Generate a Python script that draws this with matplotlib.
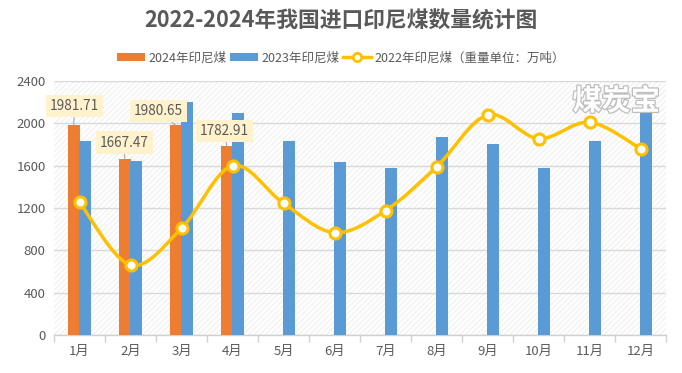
import numpy as np
import matplotlib
matplotlib.use("Agg")
import matplotlib.pyplot as plt
from matplotlib.path import Path
from matplotlib.patches import PathPatch, Rectangle, Patch
from matplotlib.lines import Line2D
import matplotlib.patheffects as pe

plt.rcParams['font.family'] = ['Noto Sans CJK SC', 'DejaVu Sans']
plt.rcParams['hatch.linewidth'] = 0.6
plt.rcParams['hatch.color'] = '#ebebeb'

months = ['1月', '2月', '3月', '4月', '5月', '6月', '7月', '8月', '9月', '10月', '11月', '12月']
v2024 = [1981.71, 1667.47, 1980.65, 1782.91]
v2023 = [1833, 1644, 2202, 2098, 1833, 1635, 1578, 1871, 1805, 1578, 1833, 2110]
v2022 = [1254, 661, 1008, 1600, 1244, 967, 1175, 1588, 2079, 1855, 2010, 1761]
yticks = [0, 400, 800, 1200, 1600, 2000, 2400]

txt = '#595959'
fig = plt.figure(figsize=(6.82, 3.73), dpi=100)
ax = fig.add_axes([54/682, 1-335/373, 612/682, 254/373])
ax.set_facecolor('white')
ax.add_patch(Rectangle((0, 0), 1, 1, transform=ax.transAxes, facecolor='white',
                       hatch='//////', edgecolor='#ebebeb', lw=0, zorder=0))

x = np.arange(len(months))
w = 0.235
ax.bar(x[:len(v2024)] - 0.115, v2024, width=w, color='#ED7D31', zorder=3)
ax.bar(x + 0.115, v2023, width=w, color='#5B9BD5', zorder=3)

# smooth curve for 2022 via cubic Bezier segments
pts = np.column_stack([x, v2022]).astype(float)
verts = [tuple(pts[0])]
codes = [Path.MOVETO]
n = len(pts)
for i in range(n - 1):
    p0 = pts[i - 1] if i > 0 else pts[i]
    p1 = pts[i]
    p2 = pts[i + 1]
    p3 = pts[i + 2] if i + 2 < n else pts[i + 1]
    c1 = p1 + (p2 - p0) / 6.0
    c2 = p2 - (p3 - p1) / 6.0
    verts += [tuple(c1), tuple(c2), tuple(p2)]
    codes += [Path.CURVE4] * 3
ax.add_patch(PathPatch(Path(verts, codes), facecolor='none', edgecolor='#FFC000',
                       lw=2.5, zorder=4, capstyle='round'))
ax.plot(x, v2022, linestyle='none', marker='o', ms=8, mfc='white', mec='#FFC000',
        mew=2.2, zorder=5)

# data labels for 2024
offsets = [(1, 19), (0, 16), (-17, 14), (-2, 15)]
for i, v in enumerate(v2024):
    dx, dy = offsets[i]
    ax.annotate(f'{v:.2f}', xy=(i - 0.115, v), xytext=(dx, dy), textcoords='offset pixels',
                ha='center', va='center', fontsize=9.8, color=txt, zorder=6,
                bbox=dict(boxstyle='square,pad=0.3', fc='#FFF2CC', ec='none'),
                arrowprops=dict(arrowstyle='-', color='#A6A6A6', lw=0.8,
                                shrinkA=0, shrinkB=0))

ax.set_xlim(-0.5, len(months) - 0.5)
ax.set_ylim(0, 2400)
ax.set_yticks(yticks)
ax.set_yticklabels([str(t) for t in yticks], color=txt, fontsize=9.5)
ax.tick_params(axis='y', length=0, pad=6)
ax.set_xticks(x)
ax.set_xticklabels(months, color=txt, fontsize=9.5)
ax.set_xticks(np.arange(-0.5, len(months)), minor=True)
ax.tick_params(axis='x', which='major', length=0, pad=7)
ax.tick_params(axis='x', which='minor', length=5, color='#d0d0d0', width=1)
ax.grid(axis='y', color='#d9d9d9', lw=1, zorder=1)
ax.set_axisbelow(True)
for s in ['left', 'right', 'top']:
    ax.spines[s].set_visible(False)
ax.spines['bottom'].set_color('#d0d0d0')
ax.spines['bottom'].set_linewidth(1)

# watermark
ax.text(0.99, 0.98, '煤炭宝', transform=ax.transAxes, ha='right', va='top',
        fontsize=21, fontweight='bold', color='white', zorder=7,
        path_effects=[pe.withStroke(linewidth=1.8, foreground='#bdbdbd')])

fig.text(0.5, 1 - 21/373, '2022-2024年我国进口印尼煤数量统计图', ha='center', va='center',
         fontsize=15.7, fontweight='bold', color=txt)

handles = [Patch(facecolor='#ED7D31'), Patch(facecolor='#5B9BD5'),
           Line2D([0], [0], color='#FFC000', lw=2.5, marker='o', ms=6, mfc='white', mec='#FFC000', mew=2)]
labels = ['2024年印尼煤', '2023年印尼煤', '2022年印尼煤（重量单位：万吨）']
fig.legend(handles, labels, loc='center', bbox_to_anchor=(0.5, 1 - 58/373), ncol=3,
           frameon=False, fontsize=9, labelcolor=txt, handlelength=2.2, handleheight=0.6,
           handletextpad=0.3, columnspacing=0.3)

fig.savefig('out.png', dpi=100)
